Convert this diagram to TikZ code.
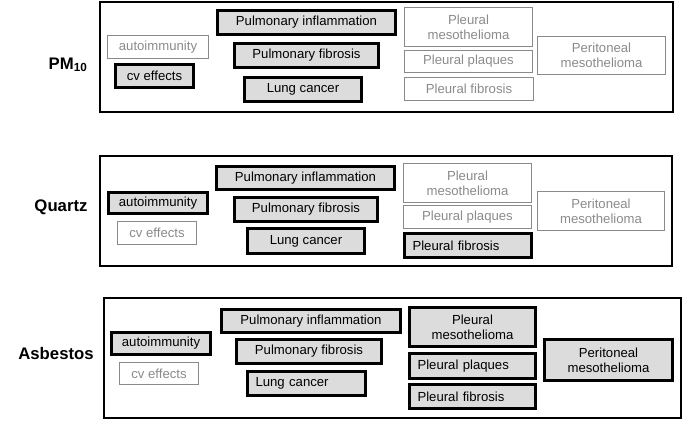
\documentclass[tikz,border=0pt]{standalone}
\usepackage{fontspec}
\setmainfont{Liberation Sans}
\definecolor{efectogris}{HTML}{DCDCDC}
\definecolor{sinefecto}{HTML}{8A8A8A}
\tikzset{
  efecto/.style={draw, line width=3bp, fill=efectogris, inner sep=0pt, align=center,
    font=\fontsize{13.2}{15}\selectfont},
  noefecto/.style={draw=sinefecto, line width=1bp, text=sinefecto, inner sep=0pt, align=center,
    font=\fontsize{13.2}{15}\selectfont},
  izq/.style={align=left, inner xsep=8bp, text width=#1},
  panel/.style={draw, line width=2bp},
  agente/.style={font=\bfseries\fontsize{16.8}{19}\selectfont}
}
\begin{document}
\begin{tikzpicture}[x=1bp, y=-1bp]
        \useasboundingbox (0,0) rectangle (685,421);

        % Panel PM10
        \draw[panel] (100,1.5) rectangle (673,112);
        \node[agente] (pm) at (68,65) {PM\textsubscript{10}};
        \node[noefecto, minimum width=101bp, minimum height=23bp] (pm-auto) at (158,47) {autoimmunity};
        \node[efecto, minimum width=78bp, minimum height=23bp] (pm-cv) at (154.5,76) {cv effects};
        \node[efecto, minimum width=178bp, minimum height=24bp] (pm-infl) at (306.5,22.5) {Pulmonary inflammation};
        \node[efecto, minimum width=144bp, minimum height=24bp] (pm-fib) at (306.5,55.5) {Pulmonary fibrosis};
        \node[efecto, minimum width=117bp, minimum height=24bp] (pm-lc) at (303,89.5) {Lung cancer};
        \node[noefecto, minimum width=128bp, minimum height=39bp] (pm-plmeso) at (468.5,27) {Pleural\\mesothelioma};
        \node[noefecto, minimum width=128bp, minimum height=22bp] (pm-plaq) at (468.5,61.5) {Pleural plaques};
        \node[noefecto, minimum width=129bp, minimum height=23bp] (pm-plfib) at (469,89) {Pleural fibrosis};
        \node[noefecto, minimum width=128bp, minimum height=38bp] (pm-peri) at (601.5,55.5) {Peritoneal\\mesothelioma};

        % Panel cuarzo
        \draw[panel] (100,156) rectangle (672,266);
        \node[agente] (qz) at (61,207) {Quartz};
        \node[efecto, minimum width=99bp, minimum height=21bp] (qz-auto) at (158,203) {autoimmunity};
        \node[noefecto, minimum width=79bp, minimum height=23bp] (qz-cv) at (157,233) {cv effects};
        \node[efecto, minimum width=178bp, minimum height=23bp] (qz-infl) at (305.5,178) {Pulmonary inflammation};
        \node[efecto, minimum width=143bp, minimum height=24bp] (qz-fib) at (306,209.5) {Pulmonary fibrosis};
        \node[efecto, minimum width=117bp, minimum height=25bp] (qz-lc) at (306,241) {Lung cancer};
        \node[noefecto, minimum width=128bp, minimum height=39bp] (qz-plmeso) at (467.5,183) {Pleural\\mesothelioma};
        \node[noefecto, minimum width=128bp, minimum height=23bp] (qz-plaq) at (467.5,217) {Pleural plaques};
        \node[efecto, izq=111bp, minimum height=24bp] (qz-plfib) at (468,245.5) {Pleural fibrosis};
        \node[noefecto, minimum width=127bp, minimum height=39bp] (qz-peri) at (601,211) {Peritoneal\\mesothelioma};

        % Panel asbesto
        \draw[panel] (104,298) rectangle (681,418);
        \node[agente] (as) at (56,354) {Asbestos};
        \node[efecto, minimum width=99bp, minimum height=22bp] (as-auto) at (161,343.5) {autoimmunity};
        \node[noefecto, minimum width=79bp, minimum height=22bp] (as-cv) at (159,373.5) {cv effects};
        \node[efecto, minimum width=179bp, minimum height=23bp] (as-infl) at (311,321) {Pulmonary inflammation};
        \node[efecto, minimum width=145bp, minimum height=24bp] (as-fib) at (309,351.5) {Pulmonary fibrosis};
        \node[efecto, izq=102bp, minimum height=24bp] (as-lc) at (306.5,383.5) {Lung cancer};
        \node[efecto, minimum width=126bp, minimum height=39bp] (as-plmeso) at (472.5,327) {Pleural\\mesothelioma};
        \node[efecto, izq=110bp, minimum height=25bp] (as-plaq) at (472.5,366) {Pleural plaques};
        \node[efecto, izq=110bp, minimum height=24bp] (as-plfib) at (472.5,396.5) {Pleural fibrosis};
        \node[efecto, minimum width=128bp, minimum height=41bp] (as-peri) at (608.5,360) {Peritoneal\\mesothelioma};
    \end{tikzpicture}
\end{document}
